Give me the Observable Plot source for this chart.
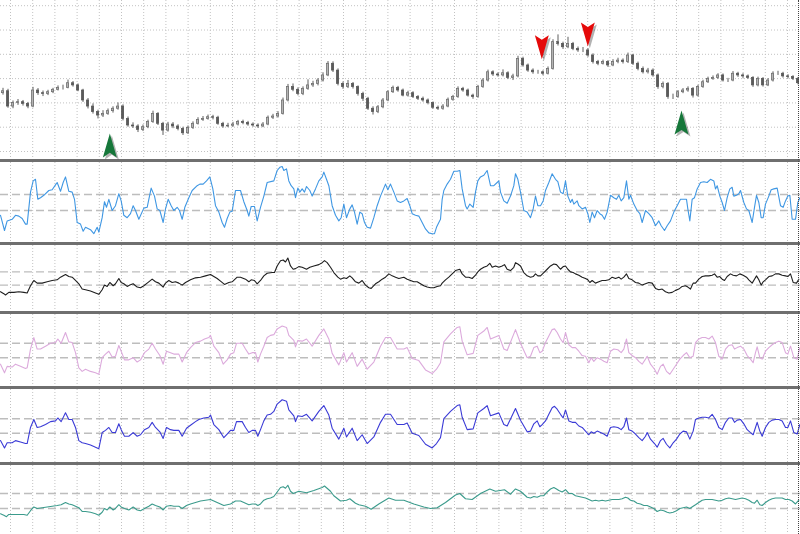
<!DOCTYPE html>
<html><head><meta charset="utf-8">
<script src="https://cdn.jsdelivr.net/npm/d3@7"></script>
<script src="https://cdn.jsdelivr.net/npm/@observablehq/plot@0.6"></script>
<style>
html,body{margin:0;padding:0;background:#fff;}
#chart{position:relative;width:800px;height:534px;overflow:hidden;background:#fff;}
#chart svg{display:block;}
.sep{height:3px;background:#6f6f6f;}
.edge{position:absolute;top:0;left:798px;width:0;height:534px;border-right:1px dotted #444;}
</style></head><body><div id="chart"></div>
<script>
// ---------- price panel (candles), time in ticks 0..2400 ----------
const firstOpen = 124.0;
const closes = [124.8,118.5,119.9,120.3,119.6,118.5,125.1,124.0,123.7,124.4,125.4,126.2,126.2,128.1,127.2,125.1,121.0,118.5,116.2,114.8,115.5,116.6,117.6,118.5,113.4,110.7,110.3,108.9,110.0,112.1,115.5,111.4,108.6,111.1,110.3,109.3,107.5,109.7,111.4,113.0,113.4,114.1,113.9,111.4,110.3,110.6,111.1,112.1,111.7,111.1,110.7,110.3,111.1,113.9,
114.4,115.5,121.0,126.5,125.4,123.7,125.8,127.2,127.8,129.2,131.3,136.1,133.3,127.8,126.5,127.8,126.5,123.7,121.7,117.6,116.2,118.2,121.0,124.4,126.2,125.1,123.0,124.0,122.4,121.7,121.0,119.9,118.0,117.6,118.5,121.3,122.4,125.8,125.1,123.0,122.4,126.5,129.2,132.6,131.7,131.3,132.2,130.3,130.9,138.1,135.4,133.3,132.6,
132.6,132.0,134.0,145.0,144.3,142.9,144.3,142.2,141.6,141.6,139.5,136.8,136.1,136.8,135.4,136.8,137.4,136.8,139.5,136.1,134.0,132.6,133.3,131.3,126.5,127.8,122.4,122.4,124.4,125.1,125.8,123.0,126.5,128.5,129.9,130.3,131.3,129.2,129.2,132.0,131.3,130.9,130.3,127.2,129.9,127.2,129.2,132.0,132.0,130.9,130.6,129.9,128.1];
const highs = [126.0,125.6,120.8,121.4,121.0,120.2,126.4,125.9,124.9,125.2,126.0,127.0,127.3,129.4,128.8,127.8,125.6,121.8,119.6,117.0,116.8,117.5,118.4,120.0,119.2,114.2,111.8,111.0,110.9,112.9,116.6,116.0,112.0,112.0,111.9,111.0,110.0,110.5,112.2,113.9,114.4,115.0,114.9,114.5,112.0,111.6,112.0,112.8,112.9,112.4,111.8,111.4,111.9,114.6,
115.3,116.4,122.0,127.6,127.8,126.2,126.6,129.5,128.9,130.0,132.4,137.0,136.9,134.0,128.6,129.2,128.4,127.0,124.4,122.3,118.4,118.9,121.8,125.0,126.9,126.8,125.7,124.8,124.6,123.0,122.4,121.6,120.4,118.7,119.3,122.0,123.1,126.6,126.4,125.7,123.6,127.2,130.0,133.5,133.2,132.4,133.6,132.8,131.8,139.2,138.8,136.0,134.0,
133.4,133.2,134.8,146.0,148.0,145.0,147.0,144.9,143.0,142.8,142.3,140.2,137.5,137.6,137.4,137.8,138.4,138.1,140.5,140.0,136.8,134.8,134.2,134.0,131.9,128.6,128.4,123.6,125.1,125.9,126.6,126.3,127.3,129.3,130.6,131.1,132.0,131.9,130.1,132.9,132.6,132.0,131.5,130.8,130.6,130.4,130.0,132.8,133.0,132.6,131.6,131.2,130.5];
const lows = [123.2,117.8,117.6,119.0,118.7,117.6,118.0,123.1,122.6,123.0,123.8,124.9,125.3,125.8,126.5,124.6,120.2,117.5,115.4,113.4,114.0,114.9,115.8,117.0,112.6,110.0,109.5,107.8,108.2,109.4,111.6,110.7,106.6,108.0,109.4,108.5,106.6,107.0,109.1,110.9,112.4,112.9,113.0,110.8,109.6,109.8,110.0,110.5,111.0,110.4,110.0,109.5,109.8,110.6,
113.2,113.8,115.0,120.4,124.6,122.9,123.0,125.2,126.4,127.0,128.6,130.8,132.5,127.0,125.6,125.9,125.7,122.8,120.6,116.9,115.0,115.6,117.6,120.5,123.9,124.4,122.5,122.4,121.8,121.0,120.3,119.2,117.4,116.9,117.0,118.0,120.7,121.9,124.4,122.4,121.5,121.9,126.0,128.6,130.9,130.6,130.7,129.6,129.2,130.3,134.7,132.6,131.8,
131.8,131.2,131.5,133.5,143.4,142.0,142.3,141.5,140.8,140.7,138.8,136.0,135.3,135.6,134.6,134.9,136.1,136.0,136.2,135.4,133.2,131.9,131.9,130.6,125.6,125.8,121.5,121.4,121.9,123.8,124.4,122.0,122.4,126.0,128.0,129.3,129.7,128.6,128.4,128.7,130.5,130.1,129.7,126.4,126.6,126.5,126.7,128.6,131.3,130.2,129.9,129.2,127.4];
const priceGrid = [100,110,120,130,140,150,160];
const buyT = [328, 2043], buyPrice = [102.5, 111.9];
const sellT = [1624, 1762], sellPrice = [142.9, 148.2];

// ---------- oscillators [tick, value 0..100] ----------
const levels = [40, 60];
const blueSeries = [[0,34],[12,15],[20,27],[35,29],[45,34],[55,33],[65,30],[75,23],[80,23],[90,63],[98,77],[105,79],[112,54],[120,56],[130,59],[145,65],[155,66],[165,72],[170,75],[180,64],[188,75],[195,82],[205,64],[215,63],[222,54],[230,25],[240,23],[248,14],[255,19],[270,16],[280,11],[290,19],[295,13],[305,31],[312,51],[318,44],[325,54],[335,40],[345,46],[355,61],[362,52],[370,34],[380,31],[390,36],[398,46],[405,40],[415,29],[430,43],[440,44],[452,68],[462,58],[470,42],[478,40],[488,25],[495,42],[503,54],[512,46],[520,40],[530,44],[537,40],[545,29],[553,44],[565,56],[575,65],[590,71],[598,73],[608,73],[618,77],[628,82],[637,67],[645,46],[655,38],[665,25],[672,19],[680,30],[688,38],[695,39],[705,65],[720,65],[730,51],[740,40],[745,33],[752,45],[762,45],[770,27],[780,44],[790,58],[800,75],[820,77],[830,90],[838,94],[845,95],[850,90],[858,92],[865,77],[872,71],[880,67],[885,56],[892,68],[898,63],[905,67],[912,63],[918,70],[928,65],[935,58],[945,67],[955,77],[965,82],[970,88],[978,79],[985,71],[995,46],[1005,34],[1015,27],[1022,31],[1030,48],[1038,31],[1048,42],[1055,47],[1062,38],[1070,23],[1078,38],[1085,36],[1092,25],[1100,19],[1110,18],[1120,31],[1130,46],[1140,58],[1150,68],[1155,73],[1162,66],[1170,73],[1180,63],[1190,52],[1200,50],[1210,52],[1220,55],[1228,46],[1235,36],[1245,34],[1255,33],[1265,25],[1275,17],[1285,12],[1295,11],[1302,11],[1308,19],[1315,25],[1320,29],[1325,54],[1330,65],[1340,73],[1350,79],[1360,89],[1370,89],[1378,90],[1385,67],[1395,46],[1400,42],[1408,48],[1418,44],[1425,63],[1432,77],[1440,82],[1450,84],[1460,90],[1470,71],[1480,71],[1490,75],[1495,77],[1500,63],[1510,52],[1520,49],[1530,58],[1540,71],[1545,86],[1552,79],[1560,63],[1570,40],[1580,38],[1590,31],[1598,42],[1605,58],[1612,46],[1620,46],[1628,52],[1635,65],[1645,75],[1655,86],[1665,79],[1672,76],[1680,63],[1688,61],[1695,77],[1702,58],[1710,50],[1715,54],[1720,48],[1730,52],[1735,46],[1745,42],[1755,44],[1762,36],[1768,25],[1775,38],[1782,31],[1790,40],[1798,36],[1805,34],[1812,29],[1820,38],[1830,59],[1840,56],[1848,54],[1855,59],[1862,52],[1870,56],[1878,77],[1885,54],[1890,59],[1900,48],[1910,40],[1918,36],[1925,25],[1935,40],[1945,36],[1955,31],[1965,21],[1975,27],[1982,21],[1992,15],[2000,21],[2010,27],[2020,38],[2030,46],[2040,54],[2050,54],[2058,54],[2062,42],[2068,27],[2075,54],[2082,56],[2090,67],[2100,75],[2110,76],[2120,75],[2130,79],[2140,77],[2145,67],[2150,71],[2158,58],[2165,50],[2172,40],[2180,56],[2188,67],[2195,69],[2200,58],[2208,59],[2215,61],[2220,65],[2230,50],[2238,42],[2245,40],[2255,25],[2262,44],[2268,59],[2275,50],[2282,31],[2288,31],[2295,48],[2305,58],[2312,66],[2320,67],[2330,68],[2340,46],[2348,44],[2355,52],[2362,58],[2368,59],[2375,29],[2385,29],[2392,50],[2398,56]];
const blackSeries = [[0,30],[10,27],[15,25],[25,29],[40,29],[55,30],[70,29],[80,28],[90,39],[100,47],[110,43],[125,43],[140,45],[155,47],[170,48],[180,52],[195,56],[205,53],[215,52],[225,47],[235,42],[245,34],[255,33],[270,31],[285,28],[295,26],[305,33],[312,40],[320,38],[328,44],[338,39],[345,42],[355,50],[362,44],[370,42],[380,38],[388,40],[398,42],[410,37],[420,36],[430,39],[440,43],[455,49],[465,45],[475,43],[488,37],[495,43],[505,47],[515,44],[525,45],[535,43],[545,40],[555,44],[570,48],[585,51],[600,52],[615,54],[630,56],[640,53],[650,50],[660,46],[672,41],[685,44],[695,45],[710,52],[720,52],[735,49],[745,45],[752,48],[762,47],[770,42],[780,47],[790,54],[800,58],[815,59],[822,59],[830,69],[840,77],[848,78],[855,75],[862,81],[870,69],[878,64],[885,65],[895,68],[905,67],[918,64],[928,67],[940,69],[955,71],[965,74],[972,77],[980,74],[990,67],[1000,59],[1012,52],[1020,49],[1030,51],[1038,50],[1048,54],[1055,51],[1065,45],[1075,43],[1085,47],[1095,40],[1105,36],[1112,35],[1125,42],[1135,45],[1145,49],[1155,52],[1165,57],[1175,54],[1185,52],[1195,50],[1210,52],[1220,49],[1230,47],[1240,45],[1250,45],[1260,42],[1270,39],[1280,37],[1290,36],[1300,36],[1310,38],[1320,39],[1325,43],[1335,48],[1345,52],[1355,57],[1365,62],[1378,64],[1385,57],[1395,52],[1405,52],[1415,50],[1425,55],[1432,60],[1440,64],[1450,67],[1460,69],[1468,73],[1475,67],[1485,69],[1495,67],[1505,69],[1512,71],[1520,64],[1530,62],[1540,67],[1545,74],[1552,72],[1560,69],[1570,59],[1580,54],[1590,52],[1598,53],[1605,57],[1612,54],[1620,54],[1630,59],[1640,64],[1650,69],[1660,72],[1668,71],[1675,67],[1680,64],[1688,68],[1695,69],[1702,64],[1710,60],[1718,59],[1725,57],[1735,55],[1745,52],[1755,50],[1762,48],[1768,44],[1775,47],[1785,43],[1795,45],[1805,47],[1815,47],[1825,48],[1835,52],[1845,50],[1855,52],[1862,49],[1870,52],[1878,57],[1885,50],[1895,48],[1905,44],[1915,43],[1925,40],[1935,42],[1945,44],[1955,43],[1965,35],[1975,33],[1985,34],[1995,30],[2005,28],[2015,29],[2025,32],[2035,34],[2045,38],[2055,39],[2062,37],[2070,34],[2078,43],[2085,43],[2095,49],[2105,53],[2115,54],[2125,54],[2135,55],[2142,57],[2150,52],[2158,53],[2165,49],[2172,47],[2180,53],[2190,57],[2198,55],[2208,54],[2218,57],[2228,55],[2238,52],[2245,48],[2255,43],[2262,49],[2268,54],[2275,48],[2282,40],[2288,45],[2295,48],[2305,53],[2315,54],[2325,57],[2335,57],[2345,55],[2355,54],[2362,53],[2370,57],[2378,44],[2388,43],[2395,49]];
const pinkSeries = [[0,31],[12,19],[20,28],[35,27],[45,31],[60,28],[75,25],[80,26],[90,52],[100,68],[110,52],[120,52],[135,56],[150,60],[165,61],[172,66],[182,60],[195,75],[205,62],[215,61],[225,47],[235,26],[245,21],[255,24],[270,21],[285,19],[295,17],[305,40],[315,45],[325,49],[335,41],[345,42],[355,57],[362,49],[372,37],[385,37],[398,40],[410,34],[420,37],[432,47],[445,52],[455,60],[465,52],[478,43],[488,31],[498,49],[510,47],[520,45],[535,45],[545,34],[558,47],[570,54],[585,61],[600,63],[612,66],[625,68],[630,71],[640,56],[655,47],[668,31],[680,37],[690,45],[700,47],[708,60],[725,60],[735,52],[745,45],[755,47],[765,47],[772,34],[780,45],[790,56],[800,68],[810,71],[820,72],[830,80],[845,84],[858,82],[865,71],[880,64],[885,55],[892,64],[905,63],[918,66],[935,56],[955,71],[970,80],[985,66],[995,46],[1015,30],[1030,47],[1038,34],[1055,47],[1070,28],[1085,38],[1100,24],[1120,34],[1140,56],[1155,68],[1170,68],[1190,52],[1210,52],[1220,54],[1235,39],[1255,36],[1275,23],[1295,18],[1308,24],[1320,33],[1330,62],[1350,73],[1370,82],[1378,83],[1385,63],[1400,44],[1418,46],[1432,71],[1450,77],[1460,82],[1470,66],[1495,71],[1510,52],[1520,50],[1545,79],[1560,60],[1580,40],[1590,42],[1600,54],[1610,56],[1618,47],[1625,49],[1635,61],[1645,70],[1655,79],[1662,80],[1670,75],[1680,66],[1688,61],[1695,75],[1705,58],[1715,54],[1725,54],[1735,49],[1745,43],[1755,42],[1765,33],[1772,40],[1780,35],[1790,40],[1800,38],[1810,35],[1820,33],[1830,49],[1840,52],[1852,51],[1862,47],[1870,52],[1878,66],[1885,47],[1895,43],[1905,40],[1915,35],[1925,31],[1935,38],[1940,42],[1950,31],[1962,24],[1970,17],[1980,28],[1988,31],[1998,21],[2008,17],[2018,24],[2028,31],[2038,38],[2048,43],[2058,47],[2068,40],[2078,42],[2085,61],[2095,66],[2105,68],[2115,68],[2125,66],[2135,70],[2145,61],[2155,42],[2165,38],[2175,52],[2185,57],[2195,58],[2202,52],[2210,54],[2220,56],[2230,52],[2240,43],[2250,38],[2258,33],[2265,47],[2270,55],[2278,40],[2285,38],[2295,49],[2305,54],[2315,58],[2325,61],[2335,63],[2345,61],[2355,47],[2362,45],[2370,56],[2380,40],[2390,38],[2398,54]];
const indigoSeries = [[0,30],[12,20],[20,27],[35,27],[45,30],[60,28],[75,26],[80,26],[90,48],[100,59],[110,48],[120,49],[135,52],[150,56],[165,57],[172,61],[182,56],[195,68],[205,59],[215,59],[225,48],[235,30],[245,27],[255,26],[270,24],[285,21],[295,19],[305,41],[315,44],[325,48],[335,41],[345,41],[355,53],[362,45],[372,36],[385,36],[398,41],[410,36],[420,38],[432,45],[445,48],[455,55],[465,48],[478,42],[488,33],[498,48],[510,45],[520,44],[535,44],[545,36],[558,47],[570,51],[585,56],[595,59],[610,61],[625,62],[630,65],[640,52],[655,45],[670,34],[680,39],[690,44],[700,44],[708,56],[725,56],[735,48],[745,41],[755,44],[765,44],[772,36],[780,45],[790,57],[800,65],[810,66],[820,70],[830,80],[845,86],[858,84],[865,72],[880,64],[885,56],[892,64],[905,63],[918,66],[935,57],[955,70],[970,78],[985,65],[995,47],[1015,32],[1030,47],[1038,35],[1055,47],[1070,30],[1085,38],[1100,26],[1120,35],[1140,55],[1155,66],[1170,66],[1190,52],[1210,52],[1220,54],[1235,40],[1255,37],[1275,25],[1295,20],[1308,26],[1320,34],[1330,60],[1350,70],[1370,78],[1378,79],[1385,62],[1400,45],[1418,46],[1432,68],[1450,74],[1460,78],[1470,64],[1495,68],[1510,52],[1520,50],[1545,74],[1560,58],[1580,42],[1590,43],[1600,53],[1610,57],[1618,49],[1625,52],[1635,57],[1645,66],[1655,75],[1662,77],[1670,73],[1680,66],[1688,61],[1695,72],[1705,57],[1715,55],[1725,55],[1735,50],[1745,48],[1755,43],[1765,38],[1772,42],[1780,40],[1790,43],[1800,41],[1810,39],[1820,36],[1830,48],[1840,49],[1852,48],[1862,45],[1870,49],[1878,61],[1885,45],[1895,43],[1905,39],[1915,34],[1925,30],[1935,36],[1940,41],[1950,32],[1962,26],[1970,21],[1980,30],[1988,33],[1998,25],[2008,20],[2018,27],[2028,32],[2038,39],[2048,43],[2058,42],[2068,32],[2078,43],[2085,59],[2095,61],[2105,62],[2115,62],[2125,61],[2135,66],[2145,59],[2155,48],[2165,45],[2175,55],[2185,61],[2195,61],[2202,55],[2210,58],[2220,59],[2230,53],[2240,45],[2250,41],[2258,38],[2265,48],[2270,55],[2278,43],[2285,36],[2295,48],[2305,55],[2315,58],[2325,59],[2335,59],[2345,57],[2355,48],[2362,48],[2370,57],[2380,41],[2390,39],[2398,52]];
const tealSeries = [[0,33],[10,31],[18,29],[25,32],[40,32],[55,32],[70,32],[80,31],[90,37],[100,42],[110,40],[125,41],[140,42],[155,43],[170,44],[182,45],[195,48],[205,46],[215,45],[225,43],[235,41],[245,36],[255,36],[270,35],[285,33],[295,31],[305,35],[312,40],[320,38],[328,42],[338,38],[345,40],[355,45],[362,42],[372,40],[385,38],[398,42],[410,38],[420,37],[432,40],[445,43],[455,46],[465,44],[478,42],[488,38],[498,43],[510,44],[520,43],[535,43],[545,40],[558,44],[570,46],[585,48],[600,50],[615,51],[630,52],[640,50],[655,47],[670,44],[680,45],[690,46],[705,50],[720,50],[735,47],[745,45],[755,46],[765,46],[772,44],[780,46],[790,51],[800,53],[810,54],[820,56],[830,62],[840,68],[848,69],[855,67],[862,71],[870,63],[878,60],[895,63],[918,61],[940,64],[965,68],[972,70],[990,63],[1000,57],[1020,50],[1038,51],[1048,53],[1065,47],[1075,45],[1095,43],[1112,39],[1135,46],[1165,54],[1185,51],[1210,51],[1240,46],[1270,42],[1290,40],[1310,41],[1335,48],[1365,58],[1378,60],[1395,53],[1415,52],[1440,60],[1468,66],[1485,63],[1512,65],[1530,59],[1545,66],[1560,63],[1580,55],[1590,54],[1600,56],[1610,55],[1620,57],[1630,57],[1640,62],[1650,66],[1660,68],[1668,66],[1675,64],[1685,62],[1695,65],[1705,60],[1715,60],[1725,57],[1735,56],[1745,55],[1755,54],[1765,52],[1775,50],[1785,51],[1795,50],[1805,51],[1815,50],[1825,51],[1835,52],[1845,52],[1855,52],[1865,53],[1875,55],[1882,54],[1890,51],[1900,50],[1910,47],[1920,46],[1930,44],[1940,44],[1950,42],[1960,40],[1970,36],[1980,38],[1990,37],[2000,35],[2008,34],[2018,35],[2028,37],[2038,40],[2048,41],[2058,42],[2068,40],[2078,43],[2085,45],[2095,48],[2105,51],[2115,52],[2125,52],[2135,52],[2145,51],[2155,50],[2165,51],[2175,53],[2185,54],[2195,53],[2205,52],[2215,53],[2225,54],[2235,53],[2245,51],[2255,48],[2262,47],[2270,51],[2278,45],[2285,44],[2295,48],[2305,51],[2315,53],[2325,54],[2335,54],[2345,54],[2355,52],[2365,52],[2375,50],[2385,46],[2395,51]];

// ---------- build ----------
const TMAX = 2400;
const gridT = d3.range(36).map(k => 30 + 66.6 * k);
const gridStyle = {stroke: "#c2c2c2", strokeDasharray: "1,2", strokeWidth: 1};
const candles = closes.map((c, i) => ({t: 15 * i + 7.5, open: i ? closes[i - 1] : firstOpen, close: c, high: highs[i], low: lows[i]}));
const upC = candles.filter(d => d.close >= d.open), dnC = candles.filter(d => d.close < d.open);
const buys = buyT.map((t, i) => ({t, price: buyPrice[i]}));
const sells = sellT.map((t, i) => ({t, price: sellPrice[i]}));
const upArrow = {draw(ctx, size) { const r = Math.sqrt(size / Math.PI), w = r * 0.58, h = r;
  ctx.moveTo(0, -h); ctx.lineTo(w, h); ctx.lineTo(0, h * 0.62); ctx.lineTo(-w, h); ctx.closePath(); }};
const downArrow = {draw(ctx, size) { const r = Math.sqrt(size / Math.PI), w = r * 0.58, h = r;
  ctx.moveTo(0, h); ctx.lineTo(w, -h); ctx.lineTo(0, -h * 0.62); ctx.lineTo(-w, -h); ctx.closePath(); }};

const chart = document.getElementById("chart");
const base = {width: 800, marginTop: 0, marginRight: 0, marginBottom: 0, marginLeft: 0,
  x: {domain: [0, TMAX], axis: null}, style: {background: "transparent", overflow: "visible"}};

const bodyW = 3.4;
chart.append(Plot.plot({...base, height: 159,
  y: {domain: [96.71, 162.14], axis: null},
  marks: [
    Plot.ruleX(gridT, gridStyle),
    Plot.ruleY(priceGrid, gridStyle),
    Plot.ruleX(candles, {x: "t", y1: "low", y2: "high", stroke: "#5e5e5e", strokeWidth: 1}),
    Plot.rect(upC, {x1: d => d.t - bodyW, x2: d => d.t + bodyW, y1: "open", y2: "close", fill: "#b4b4b4", stroke: "#666", strokeWidth: 0.7}),
    Plot.rect(dnC, {x1: d => d.t - bodyW, x2: d => d.t + bodyW, y1: "open", y2: "close", fill: "#5a5a5a", stroke: "#555", strokeWidth: 0.7}),
    Plot.dot(buys, {x: "t", y: "price", symbol: upArrow, r: 12, fill: "#000", fillOpacity: 0.3, stroke: "none", dx: 2, dy: 2}),
    Plot.dot(sells, {x: "t", y: "price", symbol: downArrow, r: 12, fill: "#000", fillOpacity: 0.3, stroke: "none", dx: 2, dy: 2}),
    Plot.dot(buys, {x: "t", y: "price", symbol: upArrow, r: 12, fill: "#16773a", stroke: "none"}),
    Plot.dot(sells, {x: "t", y: "price", symbol: downArrow, r: 12, fill: "#e50a0a", stroke: "none"})
  ]}));

function sep() { const d = document.createElement("div"); d.className = "sep"; chart.append(d); }
function panel(series, color, height, domain) {
  chart.append(Plot.plot({...base, height,
    y: {domain, axis: null},
    marks: [
      Plot.ruleX(gridT, gridStyle),
      Plot.ruleY(levels, {stroke: "#bdbdbd", strokeWidth: 1.4, strokeDasharray: "8,4"}),
      Plot.line(series, {x: d => d[0], y: d => d[1], stroke: color, strokeWidth: 1.1})
    ]}));
}
sep(); panel(blueSeries, "#3f97e3", 80, [0, 100]);
sep(); panel(blackSeries, "#1e1e1e", 66, [0, 100]);
sep(); panel(pinkSeries, "#dcaadc", 72, [0, 100]);
sep(); panel(indigoSeries, "#3a3ad6", 73, [0, 100]);
sep(); panel(tealSeries, "#3b9b8c", 69, [5.3, 97.3]);
const edge = document.createElement("div"); edge.className = "edge"; chart.append(edge);
</script></body></html>
